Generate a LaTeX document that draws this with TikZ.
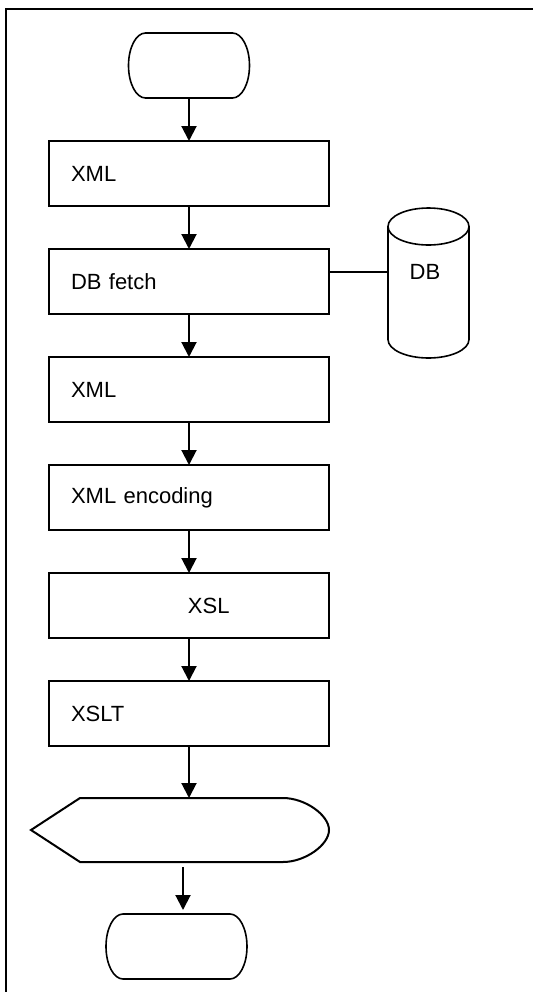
\documentclass[tikz,border=0pt]{standalone}
\usepackage{fontspec}
\setmainfont{Liberation Sans}
\usetikzlibrary{positioning,arrows.meta}

\tikzset{
    procbox/.style={draw, line width=1pt, rectangle, outer sep=0pt, text width=118pt, inner xsep=11pt, align=left, minimum height=32.5pt},
    ghost/.style={rectangle, inner sep=0pt, outer sep=0pt},
    terminal/.style={ghost, minimum width=60.5pt, minimum height=32.5pt},
    flow/.style={->, line width=1pt}
}

\begin{document}
\begin{tikzpicture}[>={Triangle[length=7.5pt,width=7.5pt]}, node distance=21.5pt, font=\fontsize{11pt}{13pt}\selectfont]
    % Page size
    \useasboundingbox (0,0) rectangle (266.5pt,-496pt);
    \clip (0,0) rectangle (266.5pt,-496pt);

    % Outer frame, cut off at the right and bottom
    \draw[line width=1pt] (3pt,-4.5pt) rectangle (290pt,-520pt);

    % Main column
    \node[terminal] (start) at (94.5pt,-32.75pt) {};
    \node[procbox, below=of start] (xmlin) {XML};
    \node[procbox, below=of xmlin] (dbfetch) {DB fetch};
    \node[procbox, below=of dbfetch] (xmlout) {XML};
    \node[procbox, below=of xmlout] (encode) {XML encoding};
    \node[procbox, below=of encode] (xsl) {\hspace*{58.5pt}XSL};
    \node[procbox, below=of xsl] (xslt) {XSLT};
    \node[ghost, minimum width=149pt, minimum height=32pt, below=26pt of xslt, xshift=-4.5pt] (disp) {};
    \node[terminal, minimum width=70.5pt, below=26pt of disp, xshift=-1.75pt] (stop) {};

    % Terminal outlines (elliptic ends)
    \foreach \t in {start, stop}
        \draw[line width=0.8pt] ([xshift=8.5pt]\t.north west) -- ([xshift=-8.5pt]\t.north east)
            arc[start angle=90, end angle=-90, x radius=8.5pt, y radius=16.25pt]
            -- ([xshift=8.5pt]\t.south west)
            arc[start angle=270, end angle=90, x radius=8.5pt, y radius=16.25pt] -- cycle;

    % Display symbol
    \draw[line width=1pt] (disp.west) -- ([xshift=24.5pt]disp.north west) -- ([xshift=-23pt]disp.north east)
        .. controls ([xshift=-12pt]disp.north east) and ([yshift=7.5pt]disp.east) .. (disp.east)
        .. controls ([yshift=-7.5pt]disp.east) and ([xshift=-12pt]disp.south east) .. ([xshift=-23pt]disp.south east)
        -- ([xshift=24.5pt]disp.south west) -- cycle;

    % Database
    \node[ghost, minimum width=40.5pt, minimum height=75pt, right=29.5pt of dbfetch, yshift=-0.75pt] (db) {};
    \draw[line width=0.8pt] ([yshift=-9.25pt]db.north west) -- ([yshift=9.25pt]db.south west)
        arc[start angle=180, end angle=360, x radius=20.25pt, y radius=9.25pt]
        -- ([yshift=-9.25pt]db.north east)
        arc[start angle=0, end angle=360, x radius=20.25pt, y radius=9.25pt];
    \node (dblabel) at ([xshift=-1.75pt, yshift=5.5pt]db.center) {DB};

    % Connectors
    \draw[flow] (start) -- (xmlin);
    \foreach \a/\b in {xmlin/dbfetch, dbfetch/xmlout, xmlout/encode, encode/xsl, xsl/xslt}
        \draw[flow] (\a) -- (\b);
    \draw[flow] (xslt.south) -- (xslt.south |- disp.north);
    \draw[flow, shorten <=2.5pt, shorten >=2pt] ([xshift=1.5pt]disp.south) -- ([xshift=3.25pt]stop.north);
    \draw[line width=1pt] ([yshift=5pt]dbfetch.east) -- ([yshift=5pt]dbfetch.east -| db.west);
\end{tikzpicture}
\end{document}
